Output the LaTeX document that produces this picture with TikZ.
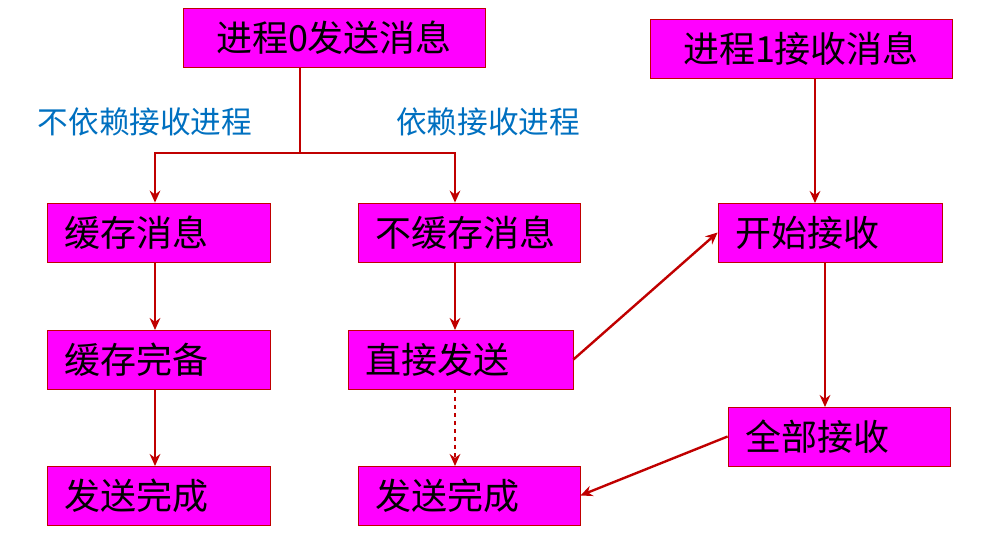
\documentclass[tikz,border=0pt]{standalone}
\usepackage{fontspec}
\setmainfont{Noto Sans CJK SC}
\usetikzlibrary{arrows.meta}
\definecolor{mag}{HTML}{FF00FF}
\definecolor{dred}{HTML}{C00000}
\definecolor{lblue}{HTML}{0070C0}
\begin{document}
\begin{tikzpicture}[x=0.75pt,y=-0.75pt,
  box/.style={draw=dred,line width=0.6pt,fill=mag,inner sep=0pt,minimum width=0.75pt*#1,minimum height=44.25pt},
  txt/.style={font=\fontsize{27}{30}\selectfont,text=black,anchor=west},
  con/.style={draw=dred,line width=1.8pt,-{Stealth[length=9pt,width=8pt]}},
  lab/.style={text=lblue,font=\fontsize{23}{26}\selectfont}]
\useasboundingbox (0,0) rectangle (983,549);
\node[box=302] (p0) at (334,38) {};
\node[txt,anchor=center] at (p0) {进程0发送消息};
\node[box=302] (p1) at (801,49) {};
\node[txt,anchor=center] at (p1) {进程1接收消息};
\node[box=223] (a1) at (158.5,232.5) {};
\node[txt] at ([xshift=10]a1.west) {缓存消息};
\node[box=222] (b1) at (469,232.5) {};
\node[txt] at ([xshift=10]b1.west) {不缓存消息};
\node[box=224] (c1) at (830,232.5) {};
\node[txt] at ([xshift=10]c1.west) {开始接收};
\node[box=223] (a2) at (158.5,359.5) {};
\node[txt] at ([xshift=10]a2.west) {缓存完备};
\node[box=225] (b2) at (460.5,359.5) {};
\node[txt] at ([xshift=10]b2.west) {直接发送};
\node[box=222] (c2) at (839,436.5) {};
\node[txt] at ([xshift=10]c2.west) {全部接收};
\node[box=223] (a3) at (158.5,495.5) {};
\node[txt] at ([xshift=10]a3.west) {发送完成};
\node[box=222] (b3) at (469,495.5) {};
\node[txt] at ([xshift=10]b3.west) {发送完成};
\node[lab] (l1) at (145,122) {不依赖接收进程};
\node[lab] (l2) at (488,122) {依赖接收进程};
\coordinate (j) at (300,153);
\coordinate (jl) at (155,153);
\coordinate (jr) at (455,153);
\draw[dred,line width=1.8pt] (p0.south -| j) -- (j);
\draw[con] (jr) -- (jl) -- (jl |- a1.north);
\draw[con] (jl) -- (jr) -- (jr |- b1.north);
\draw[con] (155,262) -- (155,330);
\draw[con] (155,389) -- (155,466);
\draw[con] (455,262) -- (455,330);
\draw[con,dashed] (455,389) -- (455,466);
\draw[con] (b2.east) -- (c1.west);
\draw[con] (815,78) -- (815,203);
\draw[con] (825,262) -- (825,407);
\draw[con] (c2.west) -- (b3.east);
\end{tikzpicture}
\end{document}
